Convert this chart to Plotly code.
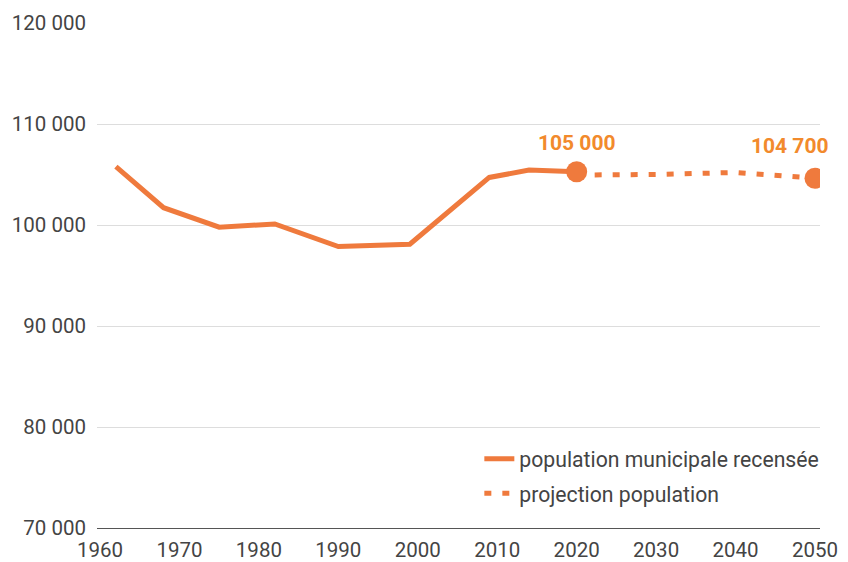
import plotly.graph_objects as go

census_years = [1962, 1968, 1975, 1982, 1990, 1999, 2009, 2014, 2020]
census_pop = [105770, 101710, 99780, 100100, 97860, 98100, 104710, 105440, 105270]

proj_years = [2020, 2030, 2040, 2050]
proj_pop = [104950, 105000, 105200, 104630]

label_texts = ["105 000", "104 700"]
y_ticks = [70000, 80000, 90000, 100000, 110000, 120000]
x_ticks = [1960, 1970, 1980, 1990, 2000, 2010, 2020, 2030, 2040, 2050]

LINE = "#EF7A3D"
LABEL = "#F28A2C"
TEXT = "#444444"
FS = 20.5

fig = go.Figure()
fig.add_trace(go.Scatter(
    x=census_years, y=census_pop, mode="lines",
    name="population municipale recensée", legendgroup="a",
    line=dict(color=LINE, width=5),
))
fig.add_trace(go.Scatter(
    x=proj_years, y=proj_pop, mode="lines",
    name="projection population", legendgroup="b",
    line=dict(color=LINE, width=5, dash="7px,11px"),
))
end_x = [census_years[-1], proj_years[-1]]
end_y = [census_pop[-1], proj_pop[-1]]
fig.add_trace(go.Scatter(
    x=end_x, y=end_y, mode="markers", showlegend=False,
    marker=dict(color=LINE, size=21),
    hoverinfo="skip",
))

fig.add_annotation(x=end_x[0], y=end_y[0], text=label_texts[0], showarrow=False,
                   yshift=29, font=dict(color=LABEL, size=21, family="Roboto", weight="bold"))
fig.add_annotation(x=end_x[1], y=end_y[1], text=label_texts[1], showarrow=False,
                   xanchor="right", xshift=16, yshift=32,
                   font=dict(color=LABEL, size=21, family="Roboto", weight="bold"))

fig.update_layout(
    template="none",
    width=848, height=562,
    margin=dict(l=97, r=28, t=23, b=34),
    paper_bgcolor="white", plot_bgcolor="white",
    separators=", ",
    font=dict(family="Roboto", size=FS, color=TEXT),
    showlegend=True,
    legend=dict(x=1.006, xanchor="right", y=0.102, yanchor="middle",
                bgcolor="rgba(0,0,0,0)", font=dict(size=21.2, color=TEXT),
                tracegroupgap=4, itemwidth=30),
    xaxis=dict(range=[1959.62, 2050.63], tickvals=x_ticks, showgrid=False,
               showline=True, linecolor="#555555", linewidth=1, automargin=False,
               ticks="", ticklabelstandoff=3, zeroline=False,
               tickfont=dict(size=FS, color=TEXT)),
    yaxis=dict(range=[70000, 120000], tickvals=y_ticks, tickformat=",d",
               showgrid=True, gridcolor="#DDDDDD", gridwidth=1, automargin=False,
               zeroline=False, showline=False, ticks="",
               ticklabelstandoff=10, tickfont=dict(size=FS, color=TEXT)),
)

fig.write_html("out.html",
               config={"displayModeBar": False, "responsive": False},
               post_script="document.body.style.margin='0';document.body.style.overflow='hidden';")
